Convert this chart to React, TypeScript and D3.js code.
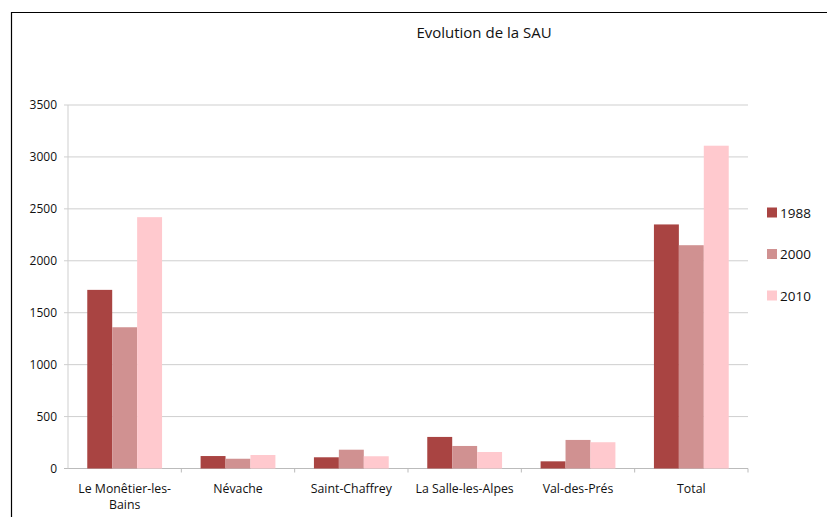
import React from "react";
import * as d3 from "d3";

const categories = ["Le Monêtier-les-Bains", "Névache", "Saint-Chaffrey", "La Salle-les-Alpes", "Val-des-Prés", "Total"];
const categoryLines = [["Le Monêtier-les-", "Bains"], ["Névache"], ["Saint-Chaffrey"], ["La Salle-les-Alpes"], ["Val-des-Prés"], ["Total"]];
const seriesNames = ["1988", "2000", "2010"];
const values1988 = [1720, 120, 108, 304, 69, 2350];
const values2000 = [1360, 94, 181, 217, 275, 2150];
const values2010 = [2420, 130, 118, 159, 253, 3108];
const yTicks = [0, 500, 1000, 1500, 2000, 2500, 3000, 3500];
const colors = ["#a94442", "#d09191", "#ffc9ce"];
const title = "Evolution de la SAU";

export default function App() {
  const W = 827, H = 517;
  const left = 68, right = 748, top = 105, bottom = 468.5;
  const series = [values1988, values2000, values2010];
  const x = d3.scaleBand<string>().domain(categories).range([left, right]).paddingInner(0).paddingOuter(0);
  const y = d3.scaleLinear().domain([0, 3500]).range([bottom, top]);
  const bw = x.bandwidth();
  const groupW = bw * 0.66;
  const x1 = d3.scaleBand<string>().domain(seriesNames).range([0, groupW]);
  const font = "'Open Sans', 'DejaVu Sans', sans-serif";
  return (
    <svg width={W} height={H} style={{ position: "absolute", left: 0, top: 0, background: "#fff" }} fontFamily={font}>
      <rect x={0} y={0} width={W} height={H} fill="#fff" />
      <path d={`M11.5,${H} V12.5 H${W}`} fill="none" stroke="#000" strokeWidth={1.2} />
      <text x={484} y={38} textAnchor="middle" fontSize={15} fill="#111">{title}</text>
      {yTicks.map((t) => (
        <g key={t}>
          <line x1={left - 4} x2={right} y1={y(t)} y2={y(t)} stroke={t === 0 ? "#bbb" : "#cfcfcf"} strokeWidth={1} />
          <text x={57} y={y(t) + 4} textAnchor="end" fontSize={12} fill="#111">{t}</text>
        </g>
      ))}
      <line x1={left} x2={left} y1={top} y2={bottom} stroke="#cfcfcf" />
      {categories.map((c) => (
        <line key={c} x1={(x(c) as number) + bw} x2={(x(c) as number) + bw} y1={bottom} y2={bottom + 4} stroke="#bbb" />
      ))}
      {categories.map((c, i) => {
        const gx = (x(c) as number) + (bw - groupW) / 2;
        return (
          <g key={c}>
            {series.map((s, j) => (
              <rect key={j} x={gx + (x1(seriesNames[j]) as number)} y={y(s[i])} width={x1.bandwidth()} height={y(0) - y(s[i])} fill={colors[j]} />
            ))}
          </g>
        );
      })}
      {categories.map((c, i) => (
        <text key={c} x={(x(c) as number) + bw / 2} y={493} textAnchor="middle" fontSize={12.3} fill="#111">
          {categoryLines[i].map((l, k) => (
            <tspan key={k} x={(x(c) as number) + bw / 2} dy={k === 0 ? 0 : 16}>{l}</tspan>
          ))}
        </text>
      ))}
      {seriesNames.map((s, j) => (
        <g key={s} transform={`translate(767, ${212.5 + j * 41.5})`}>
          <rect x={0} y={-5} width={10} height={10} fill={colors[j]} />
          <text x={13} y={5} fontSize={13.5} fill="#111">{s}</text>
        </g>
      ))}
    </svg>
  );
}
